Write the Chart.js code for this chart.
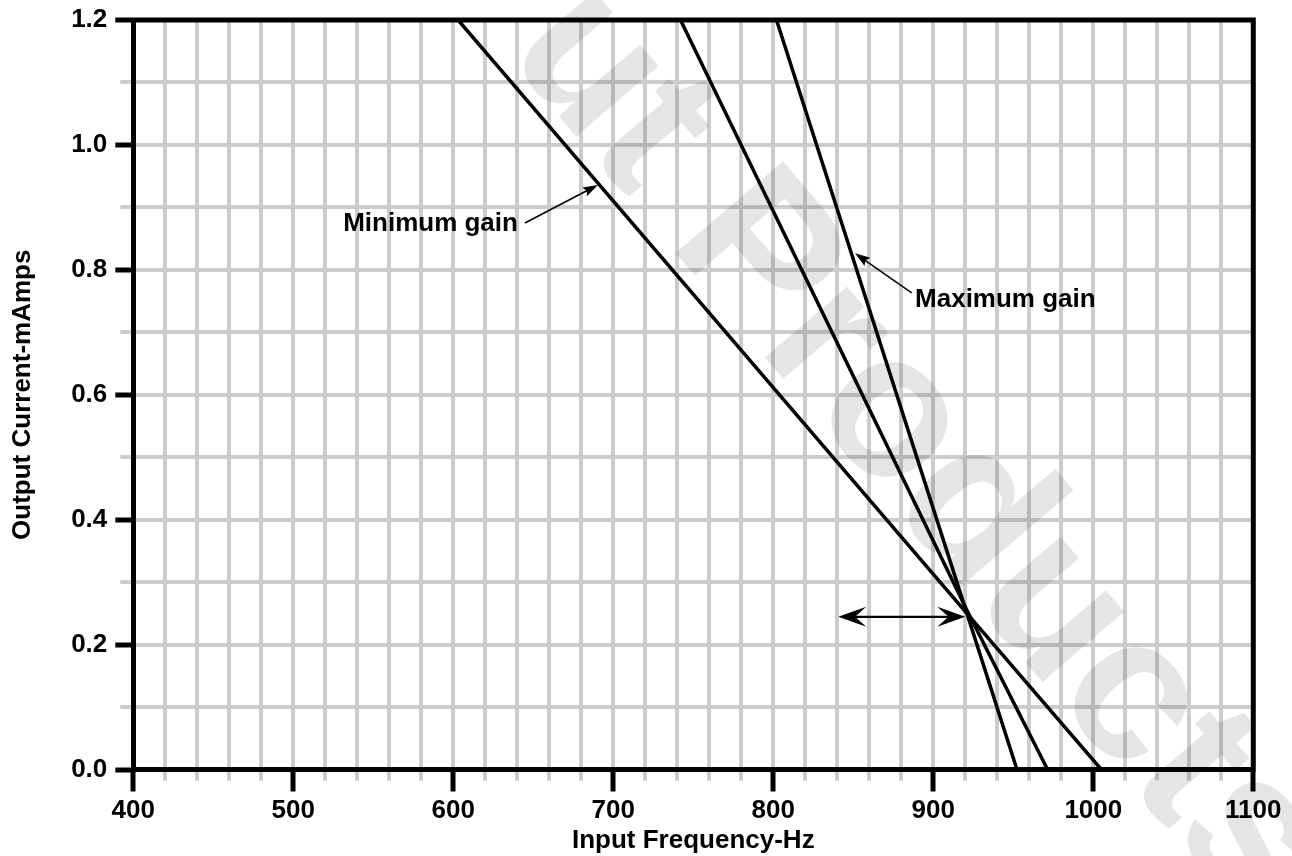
<!DOCTYPE html>
<html>
<head>
<meta charset="utf-8">
<script src="https://cdn.jsdelivr.net/npm/chart.js@4.4.1/dist/chart.umd.min.js"></script>
<style>
html,body{margin:0;padding:0;background:#fff;}
#wrap{width:1292px;height:856px;position:relative;}
</style>
</head>
<body>
<div id="wrap"><canvas id="c" width="1292" height="856"></canvas></div>
<script>
// ---- data ----
const minGainX = [603, 921, 1005];
const minGainY = [1.2, 0.25, 0];
const midGainX = [742, 921, 971.4];
const midGainY = [1.2, 0.255, 0];
const maxGainX = [802, 921, 952.3];
const maxGainY = [1.2, 0.25, 0];

const xTitle = 'Input Frequency-Hz';
const yTitle = 'Output Current-mAmps';

const noteTexts = ['Minimum gain', 'Maximum gain'];
const noteX = [640.4, 888.6];
const noteY = [0.873, 0.752];
const arrowFromX = [644.8, 886.5];
const arrowFromY = [0.875, 0.763];
const arrowToX = [690.4, 851.1];
const arrowToY = [0.936, 0.8265];
const rangeX = [840.6, 920];
const rangeY = [0.2445, 0.2445];
const watermark = 'ut Products';

const FONT = '"Liberation Sans", Arial, Helvetica, sans-serif';

function pts(xs, ys){ return xs.map((x,i)=>({x:x, y:ys[i]})); }
function lineDs(xs, ys){
  return {data: pts(xs, ys), showLine:true, borderColor:'#000', borderWidth:3.5,
          pointRadius:0, pointHoverRadius:0, tension:0, fill:false};
}
function align(px, w){ return Math.round(px - w/2) + w/2; }

function drawHead(ctx, tx, ty, fx, fy, len, hw, notch){
  const a = Math.atan2(ty-fy, tx-fx);
  const c = Math.cos(a), s = Math.sin(a);
  const bx = tx - c*len, by = ty - s*len;
  ctx.beginPath();
  ctx.moveTo(tx, ty);
  ctx.lineTo(bx - s*hw, by + c*hw);
  ctx.lineTo(tx - c*len*notch, ty - s*len*notch);
  ctx.lineTo(bx + s*hw, by - c*hw);
  ctx.closePath();
  ctx.fill();
}

const extras = {
  id:'extras',
  afterDraw(chart){
    const ctx = chart.ctx, xs = chart.scales.x, ys = chart.scales.y, ca = chart.chartArea;
    ctx.save();
    // minor tick stubs (gray) outside the plot
    ctx.strokeStyle = '#cccccc'; ctx.lineWidth = 4; ctx.lineCap = 'butt';
    xs.ticks.forEach(t=>{
      if (Math.round(t.value) % 100 !== 0){
        const p = align(xs.getPixelForValue(t.value), 4);
        ctx.beginPath(); ctx.moveTo(p, ca.bottom + 2.5); ctx.lineTo(p, ca.bottom + 11); ctx.stroke();
      }
    });
    ys.ticks.forEach(t=>{
      if (Math.round(t.value*10) % 2 !== 0){
        const p = align(ys.getPixelForValue(t.value), 4);
        ctx.beginPath(); ctx.moveTo(ca.left - 13, p); ctx.lineTo(ca.left - 2.5, p); ctx.stroke();
      }
    });
    // top and right frame
    ctx.strokeStyle = '#000'; ctx.lineWidth = 5;
    ctx.beginPath();
    ctx.moveTo(ca.left - 2.5, ca.top); ctx.lineTo(ca.right, ca.top);
    ctx.moveTo(ca.right, ca.top - 2.5); ctx.lineTo(ca.right, ca.bottom + 2.5);
    ctx.stroke();

    // annotations
    ctx.fillStyle = '#000';
    ctx.font = 'bold 26px ' + FONT;
    ctx.textBaseline = 'middle';
    noteTexts.forEach((t,i)=>{
      ctx.textAlign = i === 0 ? 'right' : 'left';
      ctx.fillText(t, xs.getPixelForValue(noteX[i]), ys.getPixelForValue(noteY[i]));
    });
    ctx.strokeStyle = '#000'; ctx.lineWidth = 1.5;
    for (let i=0;i<arrowFromX.length;i++){
      const fx = xs.getPixelForValue(arrowFromX[i]), fy = ys.getPixelForValue(arrowFromY[i]);
      const tx = xs.getPixelForValue(arrowToX[i]), ty = ys.getPixelForValue(arrowToY[i]);
      const a = Math.atan2(ty-fy, tx-fx);
      ctx.beginPath(); ctx.moveTo(fx, fy); ctx.lineTo(tx - Math.cos(a)*10, ty - Math.sin(a)*10); ctx.stroke();
      drawHead(ctx, tx, ty, fx, fy, 15, 5, 0.85);
    }
    // double arrow
    const r0x = xs.getPixelForValue(rangeX[0]), r1x = xs.getPixelForValue(rangeX[1]);
    const r0y = ys.getPixelForValue(rangeY[0]), r1y = ys.getPixelForValue(rangeY[1]);
    ctx.lineWidth = 2.2;
    ctx.beginPath(); ctx.moveTo(r0x + 15, r0y); ctx.lineTo(r1x - 15, r1y); ctx.stroke();
    drawHead(ctx, r0x, r0y, r1x, r1y, 28, 10, 0.6);
    drawHead(ctx, r1x, r1y, r0x, r0y, 28, 10, 0.6);

    // watermark
    ctx.save();
    ctx.translate(504, 52);
    ctx.rotate(49.5 * Math.PI / 180);
    ctx.font = 'bold 205px ' + FONT;
    ctx.textAlign = 'left';
    ctx.textBaseline = 'alphabetic';
    ctx.fillStyle = 'rgba(0,0,0,0.1)';
    ctx.fillText(watermark, 0, 0);
    ctx.restore();
    ctx.restore();
  }
};

const tickFont = {family: FONT, size: 26, weight: 'bold'};

new Chart(document.getElementById('c'), {
  type: 'scatter',
  data: { datasets: [lineDs(minGainX, minGainY), lineDs(midGainX, midGainY), lineDs(maxGainX, maxGainY)] },
  options: {
    responsive: false, animation: false, devicePixelRatio: 1,
    layout: { padding: { top: 20, right: 38.7, left: 0, bottom: 0 } },
    plugins: { legend: { display: false }, tooltip: { enabled: false } },
    events: [],
    scales: {
      x: {
        type: 'linear', position: 'bottom', min: 400, max: 1100,
        ticks: { stepSize: 20, autoSkip: false, maxRotation: 0, minRotation: 0, padding: 4,
                 color: '#000', font: tickFont,
                 callback: v => (Math.round(v) % 100 === 0 ? String(Math.round(v)) : '') },
        grid: { color: '#cccccc', lineWidth: 4, tickLength: 22, tickWidth: 5,
                tickColor: c => (c.tick && Math.round(c.tick.value) % 100 === 0 ? '#000' : 'rgba(0,0,0,0)') },
        border: { display: true, color: '#000', width: 5 },
        title: { display: true, text: xTitle, color: '#000',
                 font: {family: FONT, size: 26, weight: 'bold', lineHeight: 1}, padding: {top: 0, bottom: 2} },
        afterFit: s => { s.height = 856 - 769.5; s.paddingLeft = 0; s.paddingRight = 0; }
      },
      y: {
        type: 'linear', position: 'left', min: 0, max: 1.2,
        ticks: { stepSize: 0.1, autoSkip: false, padding: 8, color: '#000', font: tickFont,
                 callback: v => (Math.round(v*10) % 2 === 0 ? (Math.round(v*10)/10).toFixed(1) : '') },
        grid: { color: '#cccccc', lineWidth: 4, tickLength: 18, tickWidth: 5,
                tickColor: c => (c.tick && Math.round(c.tick.value*10) % 2 === 0 ? '#000' : 'rgba(0,0,0,0)') },
        border: { display: true, color: '#000', width: 5 },
        title: { display: true, text: yTitle, color: '#000',
                 font: {family: FONT, size: 26, weight: 'bold'}, padding: {top: 7, bottom: 0} },
        afterFit: s => { s.width = 133.3; s.paddingTop = 0; s.paddingBottom = 0; }
      }
    }
  },
  plugins: [extras]
});
</script>
</body>
</html>
